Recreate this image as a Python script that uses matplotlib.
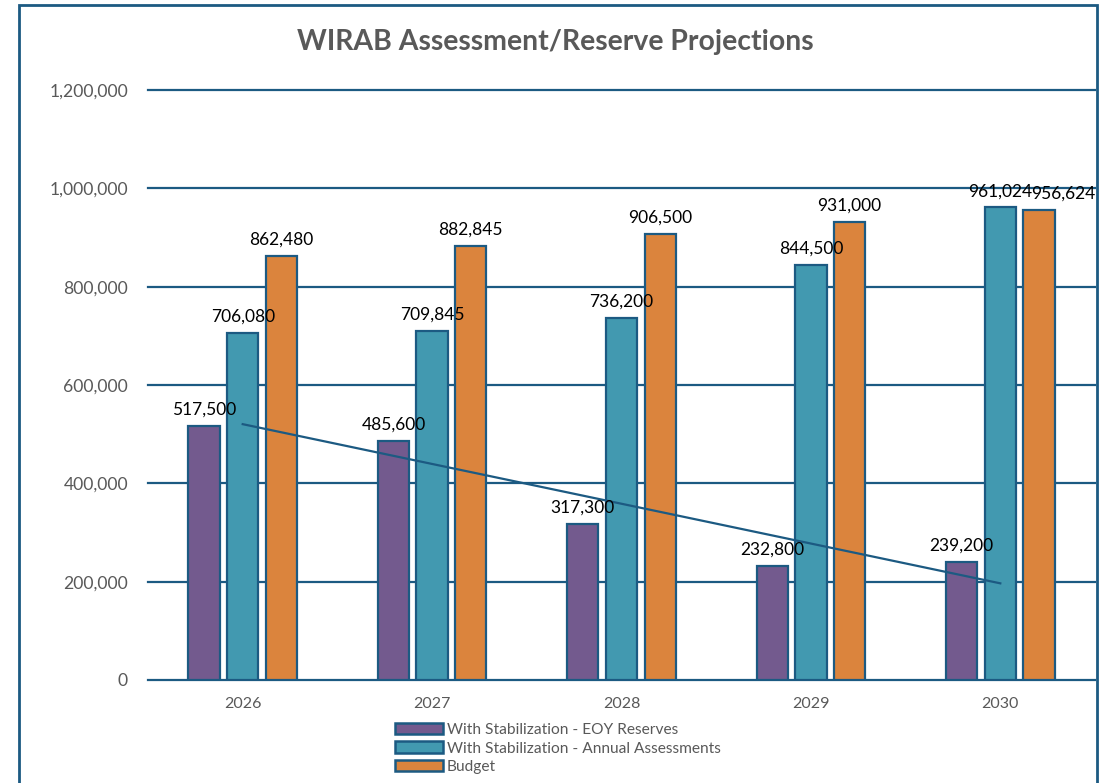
import numpy as np
import matplotlib
matplotlib.use("Agg")
import matplotlib.pyplot as plt
from matplotlib.patches import Rectangle, Patch


# ----------------------------
# Data
# ----------------------------

years = ["2026", "2027", "2028", "2029", "2030"]
eoy_reserves = [517500, 485600, 317300, 232800, 239200]
annual_assessments = [706080, 709845, 736200, 844500, 961024]
budget = [862480, 882845, 906500, 931000, 956624]

series_names = [
    "With Stabilization - EOY Reserves",
    "With Stabilization - Annual Assessments",
    "Budget",
]
y_ticks = [0, 200000, 400000, 600000, 800000, 1000000, 1200000]


# ----------------------------
# Style
# ----------------------------

PURPLE = "#735a8e"
TEAL = "#4299b0"
ORANGE = "#db843d"
EDGE = "#1c5a82"
GRID = "#1c5a82"
GRAY = "#595959"

plt.rcParams["font.family"] = ["Lato", "DejaVu Sans"]


# ----------------------------
# Chart
# ----------------------------

def create_chart():
    fig = plt.figure(figsize=(11.07, 7.83), dpi=100)
    ax = fig.add_axes([148 / 1107, 1 - 680 / 783, 947 / 1107, 590 / 783])

    x = np.arange(len(years))
    width = 0.165
    step = 0.204

    groups = [
        (eoy_reserves, PURPLE, -step),
        (annual_assessments, TEAL, 0.0),
        (budget, ORANGE, step),
    ]

    for values, color, offset in groups:
        bars = ax.bar(x + offset, values, width, color=color,
                      edgecolor=EDGE, linewidth=1.6, zorder=3)
        for i, (bar, v) in enumerate(zip(bars, values)):
            # excel nudges the last budget label right so it doesn't sit on its neighbour
            nudge = 24 if (color == ORANGE and i == len(values) - 1) else 0
            ax.annotate(f"{v:,}", (bar.get_x() + bar.get_width() / 2, v),
                        xytext=(nudge * 0.72, 6), textcoords="offset points",
                        ha="center", va="bottom", fontsize=12.5,
                        color="black", zorder=5, annotation_clip=False)

    # linear trendline on EOY reserves
    coef = np.polyfit(x, eoy_reserves, 1)
    ax.plot(x, np.polyval(coef, x), color=EDGE, linewidth=1.6, zorder=4)

    ax.set_xlim(-0.5, len(years) - 0.5)
    ax.set_ylim(0, 1200000)
    ax.set_yticks(y_ticks)
    ax.set_yticklabels([f"{t:,}" for t in y_ticks])
    ax.set_xticks(x)
    ax.set_xticklabels(years)
    ax.tick_params(axis="both", length=0, colors=GRAY)
    ax.tick_params(axis="y", pad=14.4, labelsize=12.6)
    ax.tick_params(axis="x", pad=12, labelsize=11.5)

    ax.grid(axis="y", color=GRID, linewidth=1.6, zorder=0)
    for line in ax.get_ygridlines():
        line.set_clip_on(False)
    for side in ["top", "right", "left", "bottom"]:
        ax.spines[side].set_visible(False)

    fig.text(555 / 1107, 1 - 42 / 783, "WIRAB Assessment/Reserve Projections",
             ha="center", va="center", fontsize=20.4, fontweight="bold",
             color=GRAY)

    handles = [Patch(facecolor=c, edgecolor=EDGE, linewidth=1.8)
               for c in (PURPLE, TEAL, ORANGE)]
    fig.legend(handles, series_names, loc="upper left",
               bbox_to_anchor=(395 / 1107, 1 - 723 / 783), frameon=False,
               fontsize=11.2, labelcolor=GRAY, handlelength=3.1,
               handleheight=0.75, handletextpad=0.25, labelspacing=0.28,
               borderpad=0, borderaxespad=0)

    # outer chart border
    fig.patches.append(Rectangle((19 / 1107, -0.02), 1078 / 1107, 1.02 - 5 / 783,
                                 transform=fig.transFigure, fill=False,
                                 edgecolor=EDGE, linewidth=2))

    fig.savefig("out.png", dpi=100, facecolor="white")


def main():
    create_chart()


if __name__ == "__main__":
    main()
